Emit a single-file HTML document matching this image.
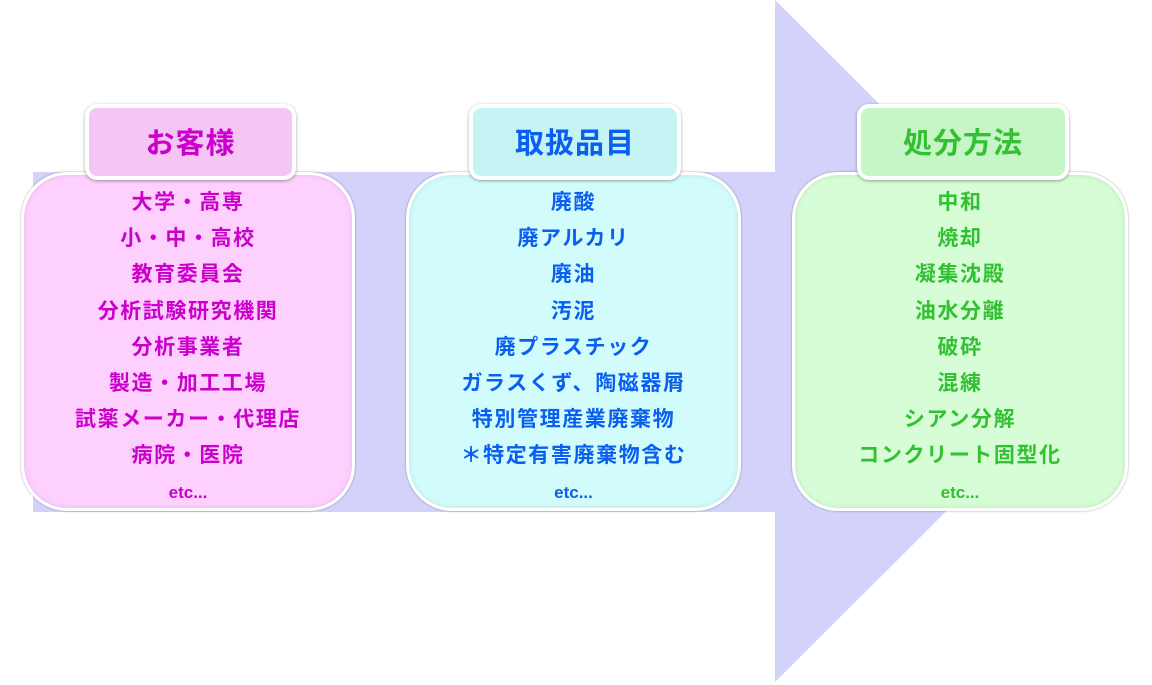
<!DOCTYPE html>
<html><head><meta charset="utf-8"><style>
body{margin:0;width:1152px;height:685px;background:#fff;position:relative;overflow:hidden;font-family:"Liberation Sans","Noto Sans CJK JP",sans-serif;}
.b{position:absolute;border-radius:46px;box-sizing:border-box;border:3px solid #fff;box-shadow:0 0 2px rgba(0,0,0,.35),inset 0 0 6px rgba(0,0,0,.1);}
.h{position:absolute;border-radius:12px;box-sizing:border-box;border:4px solid #fff;box-shadow:0 1px 3px rgba(0,0,0,.35);text-align:center;font-size:29px;font-weight:bold;line-height:72px;letter-spacing:1px;}
.t{position:absolute;top:185px;text-align:center;font-size:21px;font-weight:bold;line-height:36.2px;letter-spacing:1.6px;}
.t div{white-space:nowrap}
.e{font-size:17px;letter-spacing:0}
</style></head><body>
<svg width="1152" height="685" style="position:absolute;left:0;top:0">
<polygon points="33,172 775,172 775,0 1117,341 775,682 775,512 33,512" fill="#d2d2fa"/>
</svg>
<div class="b" style="left:21px;top:172px;width:334px;height:339px;background:#fdd0fd"></div>
<div class="h" style="left:85px;top:104px;width:211px;height:76px;background:#f5c5f5;color:#cc00cc">お客様</div>
<div class="t" style="left:21px;width:334px;color:#cc00cc">
<div>大学・高専</div><div>小・中・高校</div><div>教育委員会</div><div>分析試験研究機関</div><div>分析事業者</div><div>製造・加工工場</div><div>試薬メーカー・代理店</div><div>病院・医院</div><div class="e">etc...</div></div>

<div class="b" style="left:406px;top:172px;width:335px;height:339px;background:#d2fcfc"></div>
<div class="h" style="left:469px;top:104px;width:212px;height:76px;background:#c6f4f4;color:#0a5ff0">取扱品目</div>
<div class="t" style="left:406px;width:335px;color:#0a5ff0">
<div>廃酸</div><div>廃アルカリ</div><div>廃油</div><div>汚泥</div><div>廃プラスチック</div><div>ガラスくず、陶磁器屑</div><div>特別管理産業廃棄物</div><div>＊特定有害廃棄物含む</div><div class="e">etc...</div></div>

<div class="b" style="left:792px;top:172px;width:336px;height:339px;background:#d6fdd6"></div>
<div class="h" style="left:857px;top:104px;width:212px;height:76px;background:#c6f6c6;color:#33c033">処分方法</div>
<div class="t" style="left:792px;width:336px;color:#33c033">
<div>中和</div><div>焼却</div><div>凝集沈殿</div><div>油水分離</div><div>破砕</div><div>混練</div><div>シアン分解</div><div>コンクリート固型化</div><div class="e">etc...</div></div>
</body></html>
